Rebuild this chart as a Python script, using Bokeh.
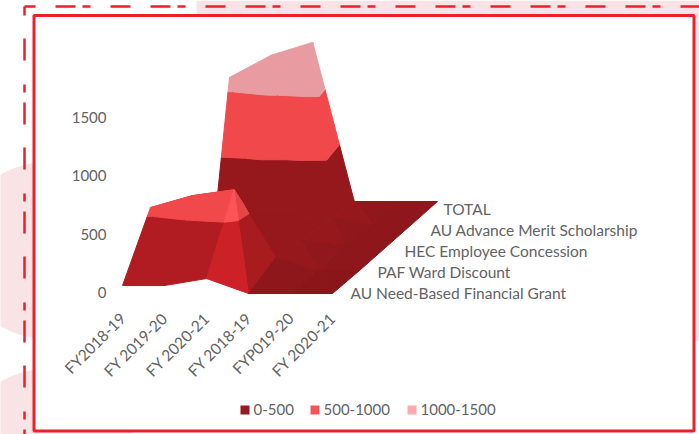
from bokeh.plotting import figure
from bokeh.models import Range1d
from bokeh.core.properties import value
from bokeh.embed import file_html
from bokeh.resources import INLINE

categories = ["FY2018-19", "FY 2019-20", "FY 2020-21", "FY 2018-19", "FYP019-20", "FY 2020-21"]
series = ["AU Need-Based Financial Grant", "PAF Ward Discount", "HEC Employee Concession",
          "AU Advance Merit Scholarship", "TOTAL"]
need_based = [68, 68, 128, 0, 0, 0]
paf_ward = [538, 640, 690, 110, 0, 0]
hec_employee = [250, 200, 150, 60, 20, 0]
au_merit = [0, 77, 77, 60, 0, 0]
total = [1060, 1250, 1360, 0, 0, 0]
surface = [need_based, paf_ward, hec_employee, au_merit, total]
y_ticks = [0, 500, 1000, 1500]
band_labels = ["0-500", "500-1000", "1000-1500"]

# view of the 3-D box
ROW_X0 = [122, 150, 176, 214, 229]
ROW_X1 = [332, 359, 385, 411, 437]
ROW_Y = [293, 270, 247, 224, 201]
K = 0.117
CONTOUR = [0, 485, 958, 100000]
BAND_RGB = [(150, 24, 28), (240, 72, 75), (232, 155, 160)]
LEGEND_COL = ["#96191e", "#f0555a", "#fbaaaf"]
TEXT = "#636363"
RED = "#ec2028"
PINK = "#fae3e4"
FONT = value("Lato")
# relative brightness of facets: (row, col, triangle) -> factor
SHADE = {(0, 0, 0): 1.17, (0, 0, 1): 1.17, (0, 1, 0): 1.17, (0, 1, 1): 1.17,
         (0, 2, 0): 1.36, (0, 2, 1): 1.12,
         (0, 3, 0): 0.94, (0, 3, 1): 0.94, (0, 4, 0): 0.92, (0, 4, 1): 0.92,
         (1, 4, 0): 0.94, (1, 4, 1): 0.94, (2, 4, 0): 0.94, (2, 4, 1): 0.94, (3, 4, 0): 0.94, (3, 4, 1): 0.94,
         (1, 3, 1): 0.96, (2, 3, 1): 0.96, (3, 3, 1): 0.96}


def project(c, s, v):
    i = min(int(s), 3)
    t = s - i
    x0 = ROW_X0[i] + (ROW_X0[i + 1] - ROW_X0[i]) * t
    x1 = ROW_X1[i] + (ROW_X1[i + 1] - ROW_X1[i]) * t
    base = ROW_Y[i] + (ROW_Y[i + 1] - ROW_Y[i]) * t
    return x0 + (x1 - x0) * c / 5.0, base - K * v


def clip(poly, level, keep_above):
    out = []
    for a, b in zip(poly, poly[1:] + poly[:1]):
        ina = a[2] >= level if keep_above else a[2] <= level
        inb = b[2] >= level if keep_above else b[2] <= level
        if ina:
            out.append(a)
        if ina != inb:
            t = (level - a[2]) / (b[2] - a[2])
            out.append(tuple(a[n] + (b[n] - a[n]) * t for n in range(3)))
    return out


def colour(rgb, f):
    return "#%02x%02x%02x" % tuple(min(255, int(round(ch * f))) for ch in rgb)


xs, ys, cols = [], [], []
for s in range(3, -1, -1):
    for c in range(5):
        a = (c, s, surface[s][c])
        b = (c + 1, s, surface[s][c + 1])
        d = (c, s + 1, surface[s + 1][c])
        e = (c + 1, s + 1, surface[s + 1][c + 1])
        for tri, pts in ((1, [b, e, d]), (0, [a, b, d])):
            for n in range(3):
                poly = clip(clip(pts, CONTOUR[n], True), CONTOUR[n + 1], False)
                if len(poly) < 3:
                    continue
                xy = [project(*q) for q in poly]
                xs.append([q[0] for q in xy])
                ys.append([q[1] for q in xy])
                f = SHADE.get((s, c, tri), 1.0)
                if n == 1:
                    f = f / 1.17 if s == 0 else 1.0
                cols.append(colour(BAND_RGB[n], f))

p = figure(width=699, height=434, output_backend="svg", toolbar_location=None,
           x_range=Range1d(0, 699), y_range=Range1d(434, 0),
           x_axis_location=None, y_axis_location=None, min_border=0,
           outline_line_color=None, background_fill_color="white", border_fill_color="white",
           tools="")
p.grid.visible = False
p.styles = {"position": "absolute", "left": "0px", "top": "0px"}

# decorative page background
p.quad(left=[196, 693], right=[699, 699], top=[0, 0], bottom=[15, 341], fill_color=PINK, line_color=None)
p.circle(x=[46, 46], y=[250, 457], radius=88.5, fill_color=PINK, line_color=None)
p.line([24, 699], [6, 6], line_color=RED, line_width=2.5, line_dash="20 20 20 7 8 20", line_dash_offset=9)
p.line([24, 24], [6, 434], line_color=RED, line_width=2.5, line_dash="22 23 22 24 8 10", line_dash_offset=13)
p.quad(left=[33.5], right=[693.5], top=[15], bottom=[430.5], fill_color="white", line_color=RED, line_width=3)

p.patches(xs, ys, fill_color=cols, line_color=cols, line_width=1)

tick_y = [ROW_Y[0] - K * v - 1 for v in y_ticks]
p.text(x=[106] * 4, y=tick_y, text=[str(v) for v in y_ticks], text_align="right", text_baseline="middle",
       text_font=FONT, text_font_size="15px", text_color=TEXT)

cat_x = [project(i, 0, 0)[0] for i in range(6)]
p.text(x=cat_x, y=[315] * 6, text=categories, angle=0.785, text_align="right", text_baseline="middle",
       text_font=FONT, text_font_size="15.5px", text_color=TEXT)

ser_x = [350, 377, 404, 430, 443]
ser_y = [292, 271, 250, 229, 208]
p.text(x=ser_x, y=ser_y, text=series, text_align="left", text_baseline="middle",
       text_font=FONT, text_font_size="15.5px", text_color=TEXT)

leg_x = [240, 310, 407]
p.quad(left=leg_x, right=[v + 9 for v in leg_x], top=[405] * 3, bottom=[414] * 3,
       fill_color=LEGEND_COL, line_color=None)
p.text(x=[v + 13 for v in leg_x], y=[408.5] * 3, text=band_labels, text_baseline="middle",
       text_font=FONT, text_font_size="15px", text_color=TEXT)

open("out.html", "w").write(file_html(p, INLINE))
